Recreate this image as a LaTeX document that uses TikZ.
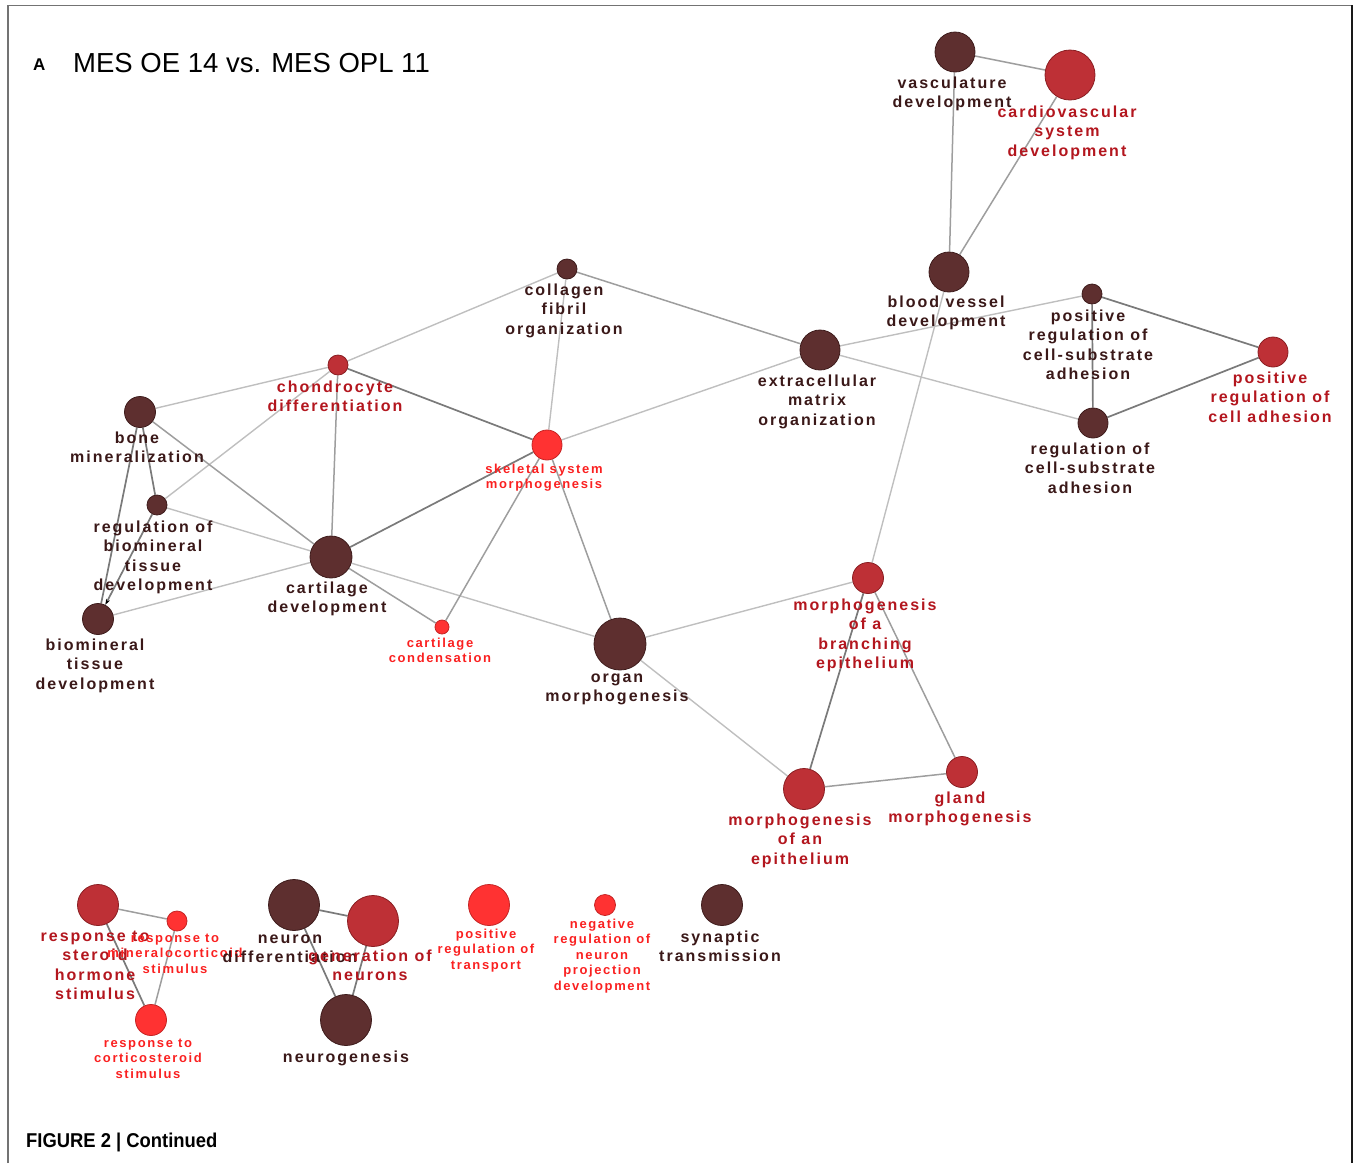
\documentclass[tikz,border=0pt]{standalone}
\usepackage{fontspec}
\setmainfont{Liberation Sans}
\newfontfamily\lblfont{Liberation Sans}[LetterSpace=12.5]
\usepackage{graphicx}
\usetikzlibrary{arrows.meta}
\pgfdeclarelayer{bg}
\pgfsetlayers{bg,main}
\definecolor{dfill}{HTML}{5E2F2F}
\definecolor{dline}{HTML}{3E1C1C}
\definecolor{mfill}{HTML}{BE3036}
\definecolor{mline}{HTML}{8A1E22}
\definecolor{bfill}{HTML}{FF3232}
\definecolor{bline}{HTML}{C42424}
\definecolor{dtxt}{HTML}{3A1818}
\definecolor{mtxt}{HTML}{B3161E}
\definecolor{btxt}{HTML}{FA2020}
\tikzset{
  dk/.style={circle, fill=dfill, draw=dline, line width=0.8pt, inner sep=0pt},
  md/.style={circle, fill=mfill, draw=mline, line width=0.8pt, inner sep=0pt},
  br/.style={circle, fill=bfill, draw=bline, line width=0.8pt, inner sep=0pt},
  lbl/.style={anchor=north, align=center, inner sep=0pt, yshift=11.5pt,
    font=\lblfont\bfseries\fontsize{16}{19.5}\selectfont,
    execute at begin node=\vphantom{Al}},
  slbl/.style={anchor=north, align=center, inner sep=0pt, yshift=9.3pt,
    font=\lblfont\bfseries\fontsize{13}{15.5}\selectfont,
    execute at begin node=\vphantom{Al}},
  dt/.style={text=dtxt},
  mt/.style={text=mtxt},
  bt/.style={text=btxt},
  elt/.style={draw=black!25, line width=1.4pt},
  emd/.style={draw=black!38, line width=1.5pt},
  edk/.style={draw=black!52, line width=1.7pt},
}
\begin{document}
\begin{tikzpicture}[x=1pt,y=-1pt]
\useasboundingbox (0,0) rectangle (1356,1163);
% frame
\draw[black!55, line width=1.5pt] (8,1163) -- (8,5.5) -- (1352,5.5);
\draw[black!90, line width=2pt] (1352,5) -- (1352,1163);

% title and caption
\node[anchor=base west, inner sep=0pt, font=\bfseries\fontsize{17}{17}\selectfont] (tA) at (33,70) {A};
\node[anchor=base west, inner sep=0pt, font=\fontsize{27.5}{28}\selectfont] (title) at (73,72) {MES OE 14 vs. MES OPL 11};
\node[anchor=base west, inner sep=0pt, font=\bfseries\fontsize{20}{20}\selectfont] (cap) at (26,1147) {\scalebox{0.92}[1]{FIGURE 2 | Continued}};

% nodes
\node[dk, minimum size=40pt] (vasc) at (955,52) {};
\node[md, minimum size=50pt] (cardio) at (1070,75) {};
\node[dk, minimum size=40pt] (bvd) at (949,272) {};
\node[dk, minimum size=20pt] (prcsa) at (1092,294) {};
\node[md, minimum size=30pt] (prca) at (1273,352) {};
\node[dk, minimum size=30pt] (rcsa) at (1093,423) {};
\node[dk, minimum size=40pt] (ecm) at (820,350) {};
\node[dk, minimum size=20pt] (coll) at (567,269) {};
\node[md, minimum size=20pt] (chon) at (338,365) {};
\node[br, minimum size=30pt] (skel) at (547,445) {};
\node[dk, minimum size=31pt] (bone) at (140,412) {};
\node[dk, minimum size=20pt] (rbio) at (157,505) {};
\node[dk, minimum size=42pt] (cart) at (331,557) {};
\node[dk, minimum size=31pt] (bio) at (98,619) {};
\node[br, minimum size=14pt] (ccond) at (442,627) {};
\node[dk, minimum size=52pt] (organ) at (620,644) {};
\node[md, minimum size=31pt] (branch) at (868,578) {};
\node[md, minimum size=31pt] (gland) at (962,772) {};
\node[md, minimum size=41pt] (epi) at (804,789) {};
\node[md, minimum size=41pt] (rsteroid) at (98,905) {};
\node[br, minimum size=20pt] (rmineral) at (177,921) {};
\node[br, minimum size=31pt] (rcortico) at (151,1020) {};
\node[dk, minimum size=51pt] (ndiff) at (294,905) {};
\node[md, minimum size=51pt] (gen) at (373,921) {};
\node[dk, minimum size=51pt] (neurog) at (346,1020) {};
\node[br, minimum size=41pt] (prt) at (489,905) {};
\node[br, minimum size=21pt] (nrnp) at (605,905) {};
\node[dk, minimum size=41pt] (syn) at (722,905) {};

% labels
\node[lbl, dt] (vasc-t) at (952,88) {vasculature\\development};
\node[lbl, mt] (cardio-t) at (1067,117) {cardiovascular\\system\\development};
\node[lbl, dt] (bvd-t) at (946,307) {blood vessel\\development};
\node[lbl, dt] (prcsa-t) at (1088,321) {positive\\regulation of\\cell-substrate\\adhesion};
\node[lbl, mt] (prca-t) at (1270,383) {positive\\regulation of\\cell adhesion};
\node[lbl, dt] (rcsa-t) at (1090,454) {regulation of\\cell-substrate\\adhesion};
\node[lbl, dt] (ecm-t) at (817,386) {extracellular\\matrix\\organization};
\node[lbl, dt] (coll-t) at (564,295) {collagen\\fibril\\organization};
\node[lbl, mt] (chon-t) at (335,392) {chondrocyte\\differentiation};
\node[slbl, bt] (skel-t) at (544,473) {skeletal system\\morphogenesis};
\node[lbl, dt] (bone-t) at (137,443) {bone\\mineralization};
\node[lbl, dt] (rbio-t) at (153,532) {regulation of\\biomineral\\tissue\\development};
\node[lbl, dt] (cart-t) at (327,593) {cartilage\\development};
\node[lbl, dt] (bio-t) at (95,650) {biomineral\\tissue\\development};
\node[slbl, bt] (ccond-t) at (440,647) {cartilage\\condensation};
\node[lbl, dt] (organ-t) at (617,685) {organ\\morphogenesis};
\node[lbl, mt] (branch-t) at (865,610) {morphogenesis\\of a\\branching\\epithelium};
\node[lbl, mt] (gland-t) at (960,803) {gland\\morphogenesis};
\node[lbl, mt] (epi-t) at (800,825) {morphogenesis\\of an\\epithelium};
\node[lbl, mt] (rsteroid-t) at (95,942) {response to\\steroid\\hormone\\stimulus};
\node[slbl, bt] (rmineral-t) at (175,943) {response to\\mineralocorticoid\\stimulus};
\node[slbl, bt] (rcortico-t) at (148,1048) {response to\\corticosteroid\\stimulus};
\node[lbl, dt] (ndiff-t) at (290,946) {neuron\\differentiation};
\node[lbl, mt] (gen-t) at (370,961) {generation of\\neurons};
\node[lbl, dt] (neurog-t) at (346,1062) {neurogenesis};
\node[slbl, bt] (prt-t) at (486,938) {positive\\regulation of\\transport};
\node[slbl, bt] (nrnp-t) at (602,928) {negative\\regulation of\\neuron\\projection\\development};
\node[lbl, dt] (syn-t) at (720,942) {synaptic\\transmission};

% edges
\begin{pgfonlayer}{bg}
\draw[emd] (vasc) -- (cardio);
\draw[emd] (vasc) -- (bvd);
\draw[emd] (cardio) -- (bvd);
\draw[elt] (bvd) -- (branch);
\draw[elt] (ecm) -- (prcsa);
\draw[elt] (ecm) -- (rcsa);
\draw[edk] (prcsa) -- (rcsa);
\draw[edk] (prcsa) -- (prca);
\draw[edk] (rcsa) -- (prca);
\draw[emd] (coll) -- (ecm);
\draw[elt] (coll) -- (chon);
\draw[elt] (coll) -- (skel);
\draw[elt] (skel) -- (ecm);
\draw[edk] (chon) -- (skel);
\draw[elt] (chon) -- (bone);
\draw[emd] (chon) -- (cart);
\draw[elt] (chon) -- (rbio);
\draw[edk] (bone) -- (rbio);
\draw[edk] (bone) -- (bio);
\draw[emd] (bone) -- (cart);
\draw[elt] (rbio) -- (cart);
\draw[edk, -{Stealth[length=6pt,width=4pt,black]}] (rbio) -- (bio);
\draw[elt] (bio) -- (cart);
\draw[edk] (cart) -- (skel);
\draw[elt] (cart) -- (organ);
\draw[emd] (cart) -- (ccond);
\draw[emd] (skel) -- (ccond);
\draw[emd] (skel) -- (organ);
\draw[elt] (organ) -- (branch);
\draw[elt] (organ) -- (epi);
\draw[edk] (branch) -- (epi);
\draw[emd] (branch) -- (gland);
\draw[emd] (epi) -- (gland);
\draw[emd] (rsteroid) -- (rmineral);
\draw[edk] (rsteroid) -- (rcortico);
\draw[emd] (rmineral) -- (rcortico);
\draw[edk] (ndiff) -- (gen);
\draw[edk] (ndiff) -- (neurog);
\draw[edk] (gen) -- (neurog);
\end{pgfonlayer}
\end{tikzpicture}
\end{document}
